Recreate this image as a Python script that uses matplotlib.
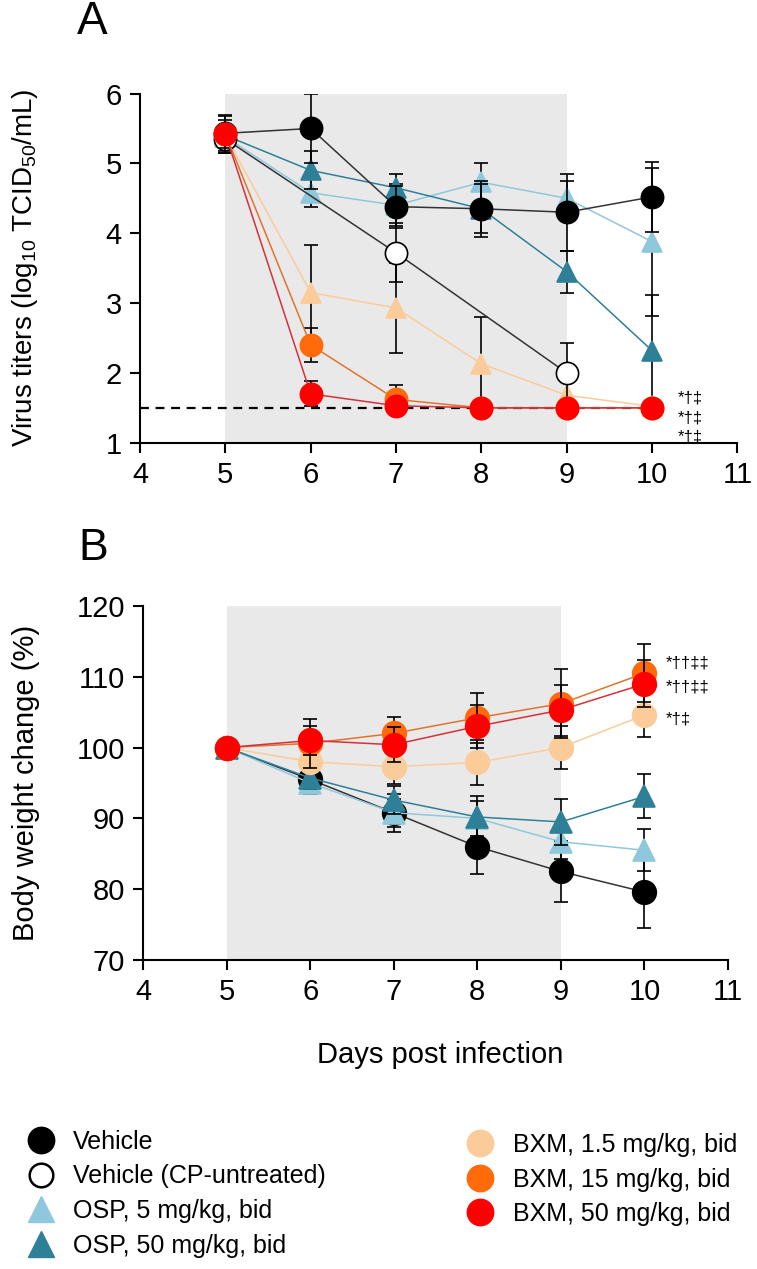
import numpy as np
import matplotlib
matplotlib.use('Agg')
import matplotlib.pyplot as plt
from matplotlib.lines import Line2D

plt.rcParams['font.family'] = ['Liberation Sans', 'DejaVu Sans']
plt.rcParams['mathtext.default'] = 'regular'

days = [5, 6, 7, 8, 9, 10]
days_cp = [5, 7, 9]

# panel A: virus titers (log10 TCID50/mL)
veh_A = [5.43, 5.50, 4.38, 4.35, 4.30, 4.52]
veh_A_err = [0.25, 0.50, 0.30, 0.40, 0.55, 0.50]
cp_A = [5.35, 3.72, 2.00]
cp_A_err = [0.20, 0.42, 0.43]
osp5_A = [5.38, 4.58, 4.40, 4.73, 4.50, 3.88]
osp5_A_err = [0.10, 0.20, 0.30, 0.27, 0.25, 1.06]
osp50_A = [5.40, 4.90, 4.65, 4.35, 3.45, 2.32]
osp50_A_err = [0.10, 0.27, 0.20, 0.35, 0.30, 0.80]
bxm1_A = [5.40, 3.15, 2.93, 2.13, 1.68, 1.52]
bxm1_A_err = [0.10, 0.68, 0.65, 0.67, 0.20, 0.05]
bxm15_A = [5.42, 2.40, 1.62, 1.50, 1.50, 1.50]
bxm15_A_err = [0.20, 0.25, 0.20, 0.0, 0.0, 0.0]
bxm50_A = [5.42, 1.70, 1.53, 1.50, 1.50, 1.50]
bxm50_A_err = [0.27, 0.18, 0.05, 0.0, 0.0, 0.0]
lod = 1.5

# panel B: body weight change (%)
veh_B = [100, 95.5, 90.8, 86.0, 82.5, 79.6]
veh_B_err = [0, 1.5, 2.7, 3.9, 4.3, 5.1]
osp5_B = [100, 95.0, 90.8, 90.0, 86.7, 85.5]
osp5_B_err = [0, 1.5, 2.0, 2.5, 2.5, 3.0]
osp50_B = [100, 95.7, 92.6, 90.2, 89.5, 93.1]
osp50_B_err = [0, 1.5, 2.0, 3.0, 3.3, 3.1]
bxm1_B = [100, 98.0, 97.3, 97.9, 100.0, 104.6]
bxm1_B_err = [0, 1.5, 2.5, 3.2, 3.0, 3.1]
bxm15_B = [100, 100.6, 102.0, 104.2, 106.2, 110.5]
bxm15_B_err = [0, 3.5, 2.3, 3.5, 4.9, 4.1]
bxm50_B = [100, 101.0, 100.4, 103.0, 105.3, 109.0]
bxm50_B_err = [0, 2.0, 2.5, 3.0, 3.6, 3.3]

c_veh = 'black'
c_osp5 = '#8fc8dc'
c_osp50 = '#2e8099'
c_bxm1 = '#fccb9a'
c_bxm15 = '#ff6a0a'
c_bxm50 = '#ff0000'

fs = 21

fig = plt.figure(figsize=(7.57, 12.69), dpi=100)
axA = fig.add_axes([0.185, 0.6511, 0.789, 0.2752])
axB = fig.add_axes([0.1889, 0.2435, 0.7728, 0.279])


def series(ax, x, y, err, col, lcol, mk, ms, mfc=None, z=3):
    ax.errorbar(x, y, yerr=err, fmt='none', ecolor='black', elinewidth=1.2,
                capsize=5, capthick=1.2, zorder=z)
    ax.plot(x, y, '-', color=lcol, lw=1.1, zorder=z + 0.1)
    ax.plot(x, y, mk, ms=ms, mfc=mfc if mfc else col, mec=col if mfc is None else 'black',
            mew=1.2, ls='none', zorder=z + 0.2)


for ax in (axA, axB):
    ax.axvspan(5, 9, color='#e9e9e9', zorder=0, lw=0)
    ax.spines['top'].set_visible(False)
    ax.spines['right'].set_visible(False)
    ax.spines['left'].set_linewidth(1.5)
    ax.spines['bottom'].set_linewidth(1.5)
    ax.tick_params(direction='out', length=7, width=1.5, labelsize=fs, pad=6)
    ax.set_xlim(4, 11)
    ax.set_xticks(range(4, 12))

# A
axA.set_ylim(1, 6)
axA.set_yticks(range(1, 7))
axA.plot([4, 10], [lod, lod], ls=(0, (4, 3)), color='black', lw=1.6, zorder=2)
series(axA, days, osp5_A, osp5_A_err, c_osp5, c_osp5, '^', 15, z=3)
series(axA, days, osp50_A, osp50_A_err, c_osp50, c_osp50, '^', 15, z=4)
series(axA, days, bxm1_A, bxm1_A_err, c_bxm1, c_bxm1, '^', 15, z=5)
series(axA, days, veh_A, veh_A_err, c_veh, '#333333', 'o', 16, z=6)
series(axA, days_cp, cp_A, cp_A_err, 'black', '#333333', 'o', 16, mfc='white', z=7)
series(axA, days, bxm15_A, bxm15_A_err, c_bxm15, '#e0742c', 'o', 16, z=8)
series(axA, days, bxm50_A, bxm50_A_err, c_bxm50, '#d8303a', 'o', 16, z=9)
axA.set_ylabel('Virus titers (log$_{10}$ TCID$_{50}$/mL)', fontsize=20)
axA.yaxis.set_label_coords(-0.168, 0.5)
for yy in [1.64, 1.36, 1.08]:
    axA.text(10.3, yy, '*†‡', fontsize=12, va='center', ha='left')

# B
axB.set_ylim(70, 120)
axB.set_yticks(range(70, 121, 10))
series(axB, days, veh_B, veh_B_err, c_veh, '#333333', 'o', 17, z=3)
series(axB, days, osp5_B, osp5_B_err, c_osp5, c_osp5, '^', 16, z=4)
series(axB, days, osp50_B, osp50_B_err, c_osp50, c_osp50, '^', 16, z=5)
series(axB, days, bxm1_B, bxm1_B_err, c_bxm1, c_bxm1, 'o', 17, z=6)
series(axB, days, bxm15_B, bxm15_B_err, c_bxm15, '#e0742c', 'o', 17, z=7)
series(axB, days, bxm50_B, bxm50_B_err, c_bxm50, '#d8303a', 'o', 17, z=8)
axB.set_ylabel('Body weight change (%)', fontsize=fs)
axB.yaxis.set_label_coords(-0.176, 0.5)
axB.text(10.25, 112.0, '*††‡‡', fontsize=12, va='center', ha='left')
axB.text(10.25, 108.5, '*††‡‡', fontsize=12, va='center', ha='left')
axB.text(10.25, 104.0, '*†‡', fontsize=12, va='center', ha='left')

fig.text(440 / 757, 1 - 1055 / 1269, 'Days post infection', fontsize=fs,
         ha='center', va='center')
fig.text(77 / 757, 1 - 22 / 1269, 'A', fontsize=33, ha='left', va='center')
fig.text(78 / 757, 1 - 548 / 1269, 'B', fontsize=32, ha='left', va='center')

# legends
left_h = [
    Line2D([], [], marker='o', ls='none', ms=19, mfc='black', mec='black'),
    Line2D([], [], marker='o', ls='none', ms=17, mfc='white', mec='black', mew=1.8),
    Line2D([], [], marker='^', ls='none', ms=19, mfc=c_osp5, mec=c_osp5),
    Line2D([], [], marker='^', ls='none', ms=19, mfc=c_osp50, mec=c_osp50),
]
left_l = ['Vehicle', 'Vehicle (CP-untreated)', 'OSP, 5 mg/kg, bid', 'OSP, 50 mg/kg, bid']
right_h = [
    Line2D([], [], marker='o', ls='none', ms=19, mfc=c_bxm1, mec=c_bxm1),
    Line2D([], [], marker='o', ls='none', ms=19, mfc=c_bxm15, mec=c_bxm15),
    Line2D([], [], marker='o', ls='none', ms=19, mfc=c_bxm50, mec=c_bxm50),
]
right_l = ['BXM, 1.5 mg/kg, bid', 'BXM, 15 mg/kg, bid', 'BXM, 50 mg/kg, bid']

leg1 = fig.legend(left_h, left_l, loc='upper left', bbox_to_anchor=(0.02, 1 - 1120 / 1269),
                  frameon=False, fontsize=18, labelspacing=0.42, handletextpad=0.6,
                  handlelength=1.3, borderaxespad=0)
leg2 = fig.legend(right_h, right_l, loc='upper left', bbox_to_anchor=(0.6, 1 - 1123 / 1269),
                  frameon=False, fontsize=18, labelspacing=0.42, handletextpad=0.65,
                  handlelength=1.3, borderaxespad=0)

fig.savefig('out.png', dpi=100)
